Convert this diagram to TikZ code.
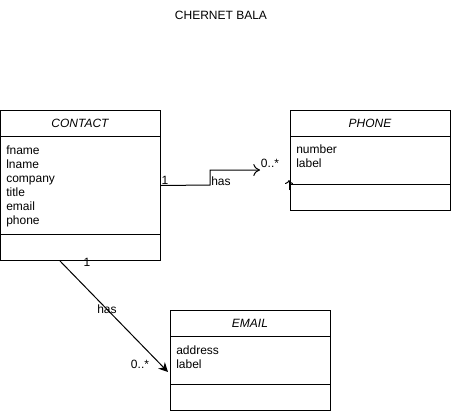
\documentclass[tikz,border=0pt]{standalone}
\usepackage{fontspec}
\setmainfont{Liberation Sans}
\usetikzlibrary{arrows.meta,calc}
\begin{document}
\begin{tikzpicture}[x=0.75pt,y=-0.75pt,
  every node/.style={font=\fontsize{9}{10.5}\selectfont, inner sep=0pt},
  classbox/.style={draw, line width=0.75pt, minimum width=120pt, anchor=north west},
  sep/.style={line width=0.75pt},
  attr/.style={anchor=base west},
  ttl/.style={font=\fontsize{9}{10.5}\selectfont\itshape},
  conn/.style={line width=0.75pt},
  lbl/.style={}]
\useasboundingbox (0,0) rectangle (451,411);
\fill[white] (0,0) rectangle (451,411);
\node (title) at (221,15) {CHERNET BALA};
% CONTACT
\node[classbox, minimum height=112.5pt] (contact) at (0,110) {};
\node[ttl] (contactname) at (80,123) {CONTACT};
\draw[sep] (0,136) -- (160,136);
\draw[sep] (0,234) -- (160,234);
\foreach \t [count=\i from 0] in {fname,lname,company,title,email,phone}
  \node[attr] (ca\i) at (6,154.5+14*\i) {\t};
% PHONE
\node[classbox, minimum height=75pt] (phone) at (290,110) {};
\node[ttl] (phonename) at (370,123) {PHONE};
\draw[sep] (290,136) -- (450,136);
\draw[sep] (290,184) -- (450,184);
\node[attr] (pa0) at (296,153.5) {number};
\node[attr] (pa1) at (296,167.5) {label};
% EMAIL
\node[classbox, minimum height=75pt] (email) at (170,310) {};
\node[ttl] (emailname) at (250,323) {EMAIL};
\draw[sep] (170,336) -- (330,336);
\draw[sep] (170,384) -- (330,384);
\node[attr] (ea0) at (176,354.5) {address};
\node[attr] (ea1) at (176,368.5) {label};
% connector contact -> phone
\coordinate (pend) at (260,170);
\draw[conn, -{To[length=5pt,width=9pt]}] (contact.east) -- (210,185) |- (pend);
\node (m1) at (165,180) {1};
\node[anchor=west] (has1) at (211,181) {has};
\node (m2) at (270,163) {0..*};
% small stray arrow on phone edge
\coordinate (sa) at (289,190);
\coordinate (sb) at (289,180);
\draw[conn, -{To[length=3pt,width=6pt]}] (sa) -- (sb);
% connector contact -> email
\coordinate (cs) at ($(contact.south west)+(60,0)$);
\coordinate (eend) at (168,372);
\draw[conn, -{Stealth[length=7pt,width=7pt]}] (cs) -- (eend);
\node (m3) at (87,262) {1};
\node (has2) at (107,309) {has};
\node (m4) at (140,364) {0..*};
\end{tikzpicture}
\end{document}
